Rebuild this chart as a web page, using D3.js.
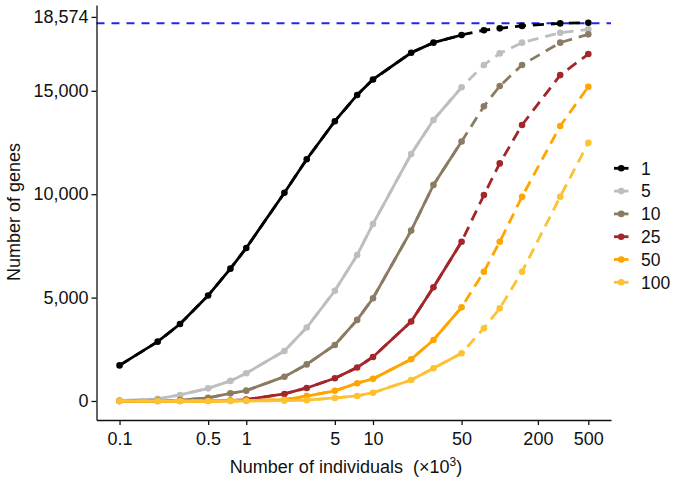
<!DOCTYPE html>
<html><head><meta charset="utf-8">
<script src="https://cdn.jsdelivr.net/npm/d3@7/dist/d3.min.js"></script>
<style>body{margin:0;background:#fff}svg{display:block}text{font-family:"Liberation Sans",Arial,Helvetica,sans-serif;fill:#111}</style>
</head><body><svg id="c" width="680" height="486"></svg>
<script>
// Number of individuals (x10^3)
const sizes = [0.1,0.2,0.3,0.5,0.75,1,2,3,5,7.5,10,20,30,50,75,100,150,300,500];
const observedMax = 50; // solid up to here, dashed (predicted) over the whole range
const groups = ["1","5","10","25","50","100"];
const genes1   = [1720,2870,3720,5100,6400,7400,10070,11690,13530,14800,15550,16840,17330,17700,17930,18020,18140,18260,18290];
const genes5   = [20,100,290,610,970,1340,2420,3550,5330,7060,8560,11940,13590,15170,16250,16810,17330,17810,17970];
const genes10  = [5,15,40,150,370,500,1175,1770,2710,3920,4970,8240,10450,12550,14250,15230,16250,17330,17730];
const genes25  = [0,0,5,10,20,70,340,630,1100,1620,2130,3840,5500,7700,9960,11490,13350,15760,16780];
const genes50  = [0,0,0,0,5,15,60,240,490,860,1070,2020,2950,4530,6250,7700,9880,13300,15200];
const genes100 = [0,0,0,0,0,5,15,40,145,242,400,1015,1580,2310,3520,4480,6250,9880,12490];
const seriesValues = [genes1,genes5,genes10,genes25,genes50,genes100];
const colors = ["#000000","#bebebe","#8b7b63","#a3262a","#ffa500","#fcc232"];
const xTicks = [0.1,0.5,1,5,10,50,200,500];
const xTickLabels = ["0.1","0.5","1","5","10","50","200","500"];
const yTicks = [0,5000,10000,15000,18574];
const yTickLabels = ["0","5,000","10,000","15,000","18,574"];
const saturationLine = 18270;

const svg = d3.select("#c");
const x = d3.scaleLog().domain([0.0658,755]).range([96.5,611]);
const y = d3.scaleLinear().domain([-920,19150]).range([420,5]);

// reference line
svg.append("line")
  .attr("x1",x.range()[0]).attr("x2",x.range()[1])
  .attr("y1",y(saturationLine)).attr("y2",y(saturationLine))
  .attr("stroke","#2323f0").attr("stroke-width",2).attr("stroke-dasharray","8,7");

const line = d3.line().x(d=>x(d[0])).y(d=>y(d[1]));
groups.forEach((g,i)=>{
  const pts = sizes.map((s,j)=>[s,seriesValues[i][j]]);
  const obs = pts.filter(p=>p[0]<=observedMax);
  const gg = svg.append("g");
  gg.append("path").attr("d",line(pts)).attr("fill","none")
    .attr("stroke",colors[i]).attr("stroke-width",2.8).attr("stroke-dasharray","11,7");
  gg.append("path").attr("d",line(obs)).attr("fill","none")
    .attr("stroke",colors[i]).attr("stroke-width",2.8);
  gg.selectAll("circle").data(pts).join("circle")
    .attr("cx",d=>x(d[0])).attr("cy",d=>y(d[1])).attr("r",3.3).attr("fill",colors[i]);
});

// axes
const xa = svg.append("g").attr("transform","translate(0,420)")
  .call(d3.axisBottom(x).tickValues(xTicks).tickFormat((d,i)=>xTickLabels[i]).tickSize(5).tickSizeOuter(0).tickPadding(7));
const ya = svg.append("g").attr("transform","translate(96.5,0)")
  .call(d3.axisLeft(y).tickValues(yTicks).tickFormat((d,i)=>yTickLabels[i]).tickSize(5).tickSizeOuter(0).tickPadding(3));
[xa,ya].forEach(a=>{
  a.selectAll("path,line").attr("stroke","#111").attr("stroke-width",1.3);
  a.selectAll("text").attr("font-size",18).attr("fill","#111").attr("font-family","Liberation Sans, Arial, sans-serif");
});

// axis titles
const xt = svg.append("text").attr("x",346).attr("y",473).attr("text-anchor","middle")
  .attr("font-size",18).style("white-space","pre");
xt.append("tspan").text("Number of individuals  (\u00d710");
xt.append("tspan").attr("dy",-7).attr("font-size",12).text("3");
xt.append("tspan").attr("dy",7).text(")");
svg.append("text").attr("transform","translate(20,212) rotate(-90)")
  .attr("text-anchor","middle").attr("font-size",18).text("Number of genes");

// legend
groups.forEach((g,i)=>{
  const yy = 168.3 + i*22.8;
  svg.append("line").attr("x1",614).attr("x2",628.5).attr("y1",yy).attr("y2",yy)
    .attr("stroke",colors[i]).attr("stroke-width",2.8);
  svg.append("circle").attr("cx",621.2).attr("cy",yy).attr("r",3.3).attr("fill",colors[i]);
  svg.append("text").attr("x",641).attr("y",yy).attr("dy","0.36em").attr("font-size",17.5).text(g);
});
</script></body></html>
